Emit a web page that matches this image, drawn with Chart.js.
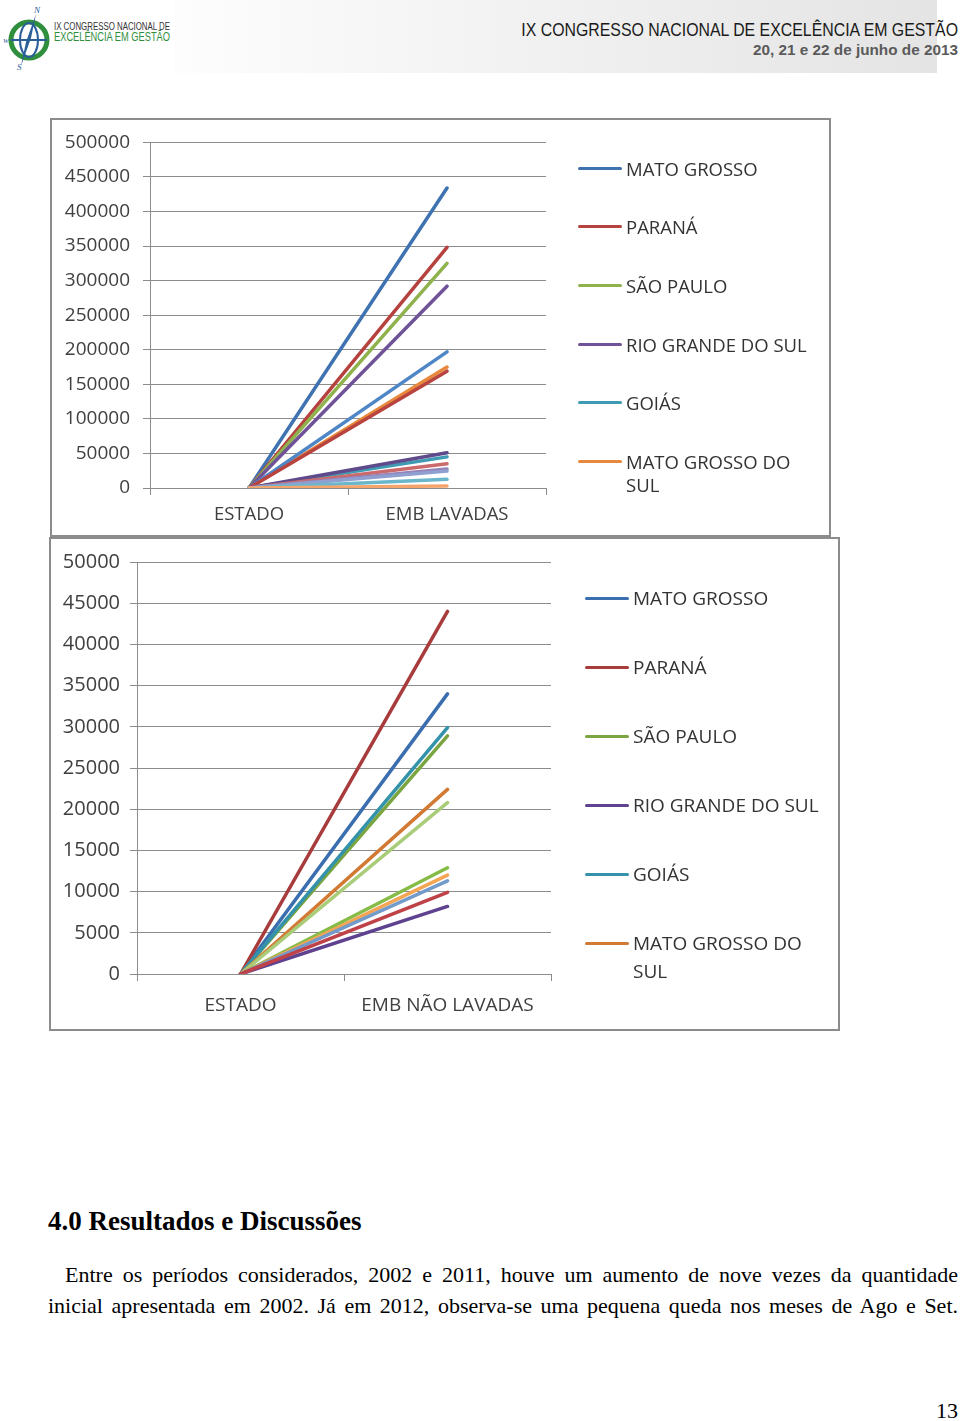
<!DOCTYPE html>
<html>
<head>
<meta charset="utf-8">
<script src="https://cdn.jsdelivr.net/npm/chart.js@4.4.1/dist/chart.umd.min.js"></script>
<style>
  body { margin: 0; background: #fff; }
  #page { position: relative; width: 960px; height: 1421px; overflow: hidden; font-family: "Open Sans", sans-serif; }
  .band { position: absolute; left: 175px; top: 0; width: 762px; height: 73px; background: linear-gradient(to right, #fdfdfd, #e4e4e4); }
  .htitle { position: absolute; right: 2px; top: 19px; font-family: "Liberation Sans", Arial, sans-serif; font-size: 19px; color: #1a1a1a; transform: scaleX(0.835); transform-origin: right center; white-space: nowrap; }
  .hdate { position: absolute; right: 2px; top: 41px; font-family: "Liberation Sans", Arial, sans-serif; font-weight: bold; font-size: 15px; color: #5a5a5a; transform: scaleX(1.02); transform-origin: right center; white-space: nowrap; }
  .box { position: absolute; box-sizing: border-box; border: 2px solid #8c8c8c; background: #fff; }
  .cv { position: absolute; }
  .item { position: absolute; display: flex; align-items: flex-start; color: #333; }
  .swatch { width: 44px; height: 3px; border-radius: 2px; flex: none; }
  .ltext { margin-left: 4px; }
  .serif { position: absolute; font-family: "Liberation Serif", "Times New Roman", serif; color: #000; }
</style>
</head>
<body>
<div id="page">
  <svg style="position:absolute;left:0;top:0" width="175" height="75">
    <circle cx="29" cy="40" r="18" fill="none" stroke="#2f8f3c" stroke-width="5"/>
    <ellipse cx="29" cy="40" rx="9" ry="17" fill="none" stroke="#2a5e9a" stroke-width="2"/>
    <line x1="11" y1="40" x2="47" y2="40" stroke="#2a5e9a" stroke-width="2"/>
    <polygon points="36,14 31,38 21,66 26,42" fill="#2a5e9a"/>
    <text x="34" y="13" font-family="Liberation Serif" font-style="italic" font-size="9" fill="#2a5e9a">N</text>
    <text x="17" y="70" font-family="Liberation Serif" font-style="italic" font-size="9" fill="#2a5e9a">S</text>
    <text x="3" y="43" font-family="Liberation Serif" font-style="italic" font-size="7" fill="#2a5e9a">W</text>
    <text x="54" y="30" font-family="Liberation Sans" font-size="10" fill="#333" textLength="116" lengthAdjust="spacingAndGlyphs">IX CONGRESSO NACIONAL DE</text>
    <text x="54" y="41" font-family="Liberation Sans" font-size="12" fill="#2f8f3c" textLength="116" lengthAdjust="spacingAndGlyphs">EXCELÊNCIA EM GESTÃO</text>
  </svg>
  <div class="band"></div>
  <div class="htitle">IX CONGRESSO NACIONAL DE EXCELÊNCIA EM GESTÃO</div>
  <div class="hdate">20, 21 e 22 de junho de 2013</div>

  <div class="box" style="left:50px;top:118px;width:781px;height:419px"></div>
  <canvas id="chart1" class="cv" width="781" height="419" style="left:50px;top:118px"></canvas>
  <div id="legend1"></div>

  <div class="box" style="left:49px;top:537px;width:791px;height:494px"></div>
  <canvas id="chart2" class="cv" width="791" height="494" style="left:49px;top:537px"></canvas>
  <div id="legend2"></div>

  <div class="serif" style="left:48px;top:1206px;font-size:27px;font-weight:bold;white-space:nowrap">4.0 Resultados e Discussões</div>
  <div class="serif" style="left:65px;top:1259px;width:893px;font-size:22px;line-height:31px;text-align:justify;text-align-last:justify;white-space:nowrap">Entre os períodos considerados, 2002 e 2011, houve um aumento de nove vezes da quantidade</div>
  <div class="serif" style="left:48px;top:1290px;width:910px;font-size:22px;line-height:31px;text-align:justify;text-align-last:justify;white-space:nowrap">inicial apresentada em 2002. Já em 2012, observa-se uma pequena queda nos meses de Ago e Set.</div>
  <div class="serif" style="right:2px;top:1398px;font-size:22px">13</div>
</div>

<script>
// Chart data

var categories1 = ["ESTADO", "EMB LAVADAS"];
var names1 = ["MATO GROSSO", "PARANÁ", "SÃO PAULO", "RIO GRANDE DO SUL", "GOIÁS", "MATO GROSSO DO SUL",
  "Série 7", "Série 8", "Série 9", "Série 10", "Série 11", "Série 12", "Série 13", "Série 14"];
var estado1 = [0, 0, 0, 0, 0, 0, 0, 0, 0, 0, 0, 0, 0, 0];
var lavadas1 = [434000, 348000, 325000, 292000, 45000, 175000, 197000, 169000, 51000, 35000, 27500, 24500, 12500, 3000];
var colors1 = ["#3f72b0", "#b6423f", "#8fb24c", "#6f5297", "#3f9bb3", "#e8883c",
  "#4f86c6", "#b9433f", "#5f4a8b", "#cb6a6c", "#9482b8", "#8f9fd0", "#6ab7cc", "#f5a56c"];
var yMax1 = 500000, yStep1 = 50000;

var categories2 = ["ESTADO", "EMB NÃO LAVADAS"];
var names2 = ["MATO GROSSO", "PARANÁ", "SÃO PAULO", "RIO GRANDE DO SUL", "GOIÁS", "MATO GROSSO DO SUL",
  "Série 7", "Série 8", "Série 9", "Série 10", "Série 11"];
var estado2 = [0, 0, 0, 0, 0, 0, 0, 0, 0, 0, 0];
var naoLavadas2 = [34000, 44000, 28900, 8200, 29900, 22400, 20800, 12900, 12000, 11300, 9900];
var colors2 = ["#3a6eae", "#a83b3b", "#7aa540", "#5e4290", "#3592ab", "#d27a34",
  "#a9cc78", "#86bb48", "#f4a553", "#729aca", "#bf4248"];
var yMax2 = 50000, yStep2 = 5000;

var legendCount = 6;

Chart.defaults.font.family = "'Open Sans', sans-serif";

function buildChart(canvasId, cats, names, start, end, colors, yMax, yStep, lay) {
  var datasets = [];
  for (var i = 0; i < names.length; i++) {
    datasets.push({
      label: names[i],
      data: [start[i], end[i]],
      borderColor: colors[i],
      backgroundColor: colors[i],
      borderWidth: 3.5,
      pointRadius: 0,
      fill: false,
      tension: 0,
      borderCapStyle: "round",
      order: names.length - i
    });
  }
  var gridColor = "#8c8c8c";
  return new Chart(document.getElementById(canvasId).getContext("2d"), {
    type: "line",
    data: { labels: cats, datasets: datasets },
    options: {
      responsive: false,
      animation: false,
      layout: { padding: { left: 0, top: lay.top, right: lay.right, bottom: 0 } },
      plugins: { legend: { display: false }, tooltip: { enabled: false } },
      scales: {
        x: {
          offset: true,
          afterFit: function(s) { s.height = lay.xHeight; },
          grid: { offset: true, drawOnChartArea: false, tickLength: 7, color: gridColor },
          border: { color: gridColor },
          ticks: { color: "#404040", font: { size: lay.catFont }, padding: lay.xPad, maxRotation: 0, autoSkip: false }
        },
        y: {
          min: 0, max: yMax,
          afterFit: function(s) { s.width = lay.yWidth; },
          grid: { tickLength: 7, color: gridColor },
          border: { color: gridColor },
          ticks: {
            stepSize: yStep, color: "#404040", font: { size: lay.tickFont }, padding: lay.yPad,
            callback: function(v) { return String(v); }
          }
        }
      }
    }
  });
}

function buildLegend(id, names, colors, lg) {
  var holder = document.getElementById(id);
  for (var i = 0; i < legendCount; i++) {
    var cy = lg.firstY + i * lg.step;
    var item = document.createElement("div");
    item.className = "item";
    item.style.left = lg.left + "px";
    item.style.top = (cy - lg.lineH / 2) + "px";
    item.style.fontSize = lg.font + "px";
    item.style.lineHeight = lg.lineH + "px";
    var sw = document.createElement("span");
    sw.className = "swatch";
    sw.style.background = colors[i];
    sw.style.marginTop = (lg.lineH / 2 - 1.5) + "px";
    var tx = document.createElement("span");
    tx.className = "ltext";
    tx.style.width = lg.wrapW + "px";
    tx.textContent = names[i];
    item.appendChild(sw);
    item.appendChild(tx);
    holder.appendChild(item);
  }
}

document.addEventListener("DOMContentLoaded", function() {
  buildChart("chart1", categories1, names1, estado1, lavadas1, colors1, yMax1, yStep1,
    { top: 21, right: 285, xHeight: 49, yWidth: 100, yPad: 13, xPad: 9, tickFont: 19, catFont: 18.5 });
  buildLegend("legend1", names1, colors1, { left: 578, firstY: 168, step: 58.7, lineH: 23, font: 18.5, wrapW: 188 });

  buildChart("chart2", categories2, names2, estado2, naoLavadas2, colors2, yMax2, yStep2,
    { top: 25, right: 289, xHeight: 57, yWidth: 88, yPad: 10, xPad: 13, tickFont: 20, catFont: 19 });
  buildLegend("legend2", names2, colors2, { left: 585, firstY: 598, step: 69, lineH: 28, font: 19, wrapW: 195 });
});
</script>
</body>
</html>
